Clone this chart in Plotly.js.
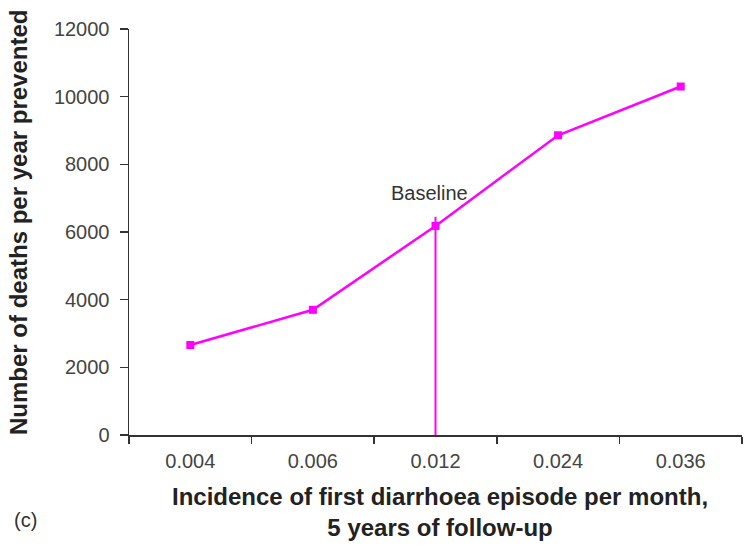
<!DOCTYPE html>
<html>
<head>
<meta charset="utf-8">
<script src="https://cdn.plot.ly/plotly-3.0.1.min.js"></script>
<style>html,body{margin:0;padding:0;background:#fff;}#chart{width:750px;height:548px;}</style>
</head>
<body>
<div id="chart"></div>
<script>
const categories = ['0.004', '0.006', '0.012', '0.024', '0.036'];
const deathsPrevented = [2660, 3700, 6180, 8860, 10300];
const yTicks = [0, 2000, 4000, 6000, 8000, 10000, 12000];
const baselineCategory = '0.012';
const baselineTop = 6450;
const baselineLabelY = 7150;

const magenta = '#ff00ff';
const fontFam = 'Liberation Sans, Arial, sans-serif';

const W = 750, H = 548;
const M = {l: 129, r: 8, t: 29, b: 113};
const px2paperX = (px) => (px - M.l) / (W - M.l - M.r);
const px2paperY = (py) => (H - M.b - py) / (H - M.t - M.b);
const baseIdx = categories.indexOf(baselineCategory);

const trace = {
  x: categories,
  y: deathsPrevented,
  type: 'scatter',
  mode: 'lines+markers',
  line: {color: magenta, width: 2.5},
  marker: {color: magenta, symbol: 'square', size: 8},
  hoverinfo: 'x+y'
};

const layout = {
  width: W, height: H,
  margin: M,
  paper_bgcolor: '#fff', plot_bgcolor: '#fff',
  showlegend: false,
  font: {family: fontFam, color: '#333', size: 20},
  xaxis: {
    type: 'category',
    range: [-0.5, 4.5],
    tickson: 'boundaries',
    ticks: 'outside', ticklen: 7, tickwidth: 1.5, tickcolor: '#333',
    showline: true, linecolor: '#333', linewidth: 1.5,
    showgrid: false, zeroline: false,
    tickfont: {family: fontFam, size: 20, color: '#444'},
    ticklabelstandoff: 7
  },
  yaxis: {
    range: [0, 12000],
    tickvals: yTicks,
    ticktext: yTicks.map(String),
    ticks: 'outside', ticklen: 8, tickwidth: 1.5, tickcolor: '#333',
    showline: true, linecolor: '#333', linewidth: 1.5,
    showgrid: false, zeroline: false,
    tickfont: {family: fontFam, size: 20, color: '#444'},
    ticklabelstandoff: 6
  },
  shapes: [{
    type: 'line', xref: 'x', yref: 'y',
    x0: baseIdx, x1: baseIdx, y0: 0, y1: baselineTop,
    line: {color: magenta, width: 2}
  }],
  annotations: [
    {x: baseIdx, y: baselineLabelY, xref: 'x', yref: 'y', text: 'Baseline',
     showarrow: false, xshift: -6, font: {family: fontFam, size: 20, color: '#333'}},
    {x: px2paperX(12), y: px2paperY(520), xref: 'paper', yref: 'paper', text: '(c)', showarrow: false,
     xanchor: 'left', yanchor: 'middle', font: {family: fontFam, size: 20, color: '#333'}},
    {x: px2paperX(18), y: px2paperY(223), xref: 'paper', yref: 'paper',
     text: '<b>Number of deaths per year prevented</b>', textangle: -90, showarrow: false,
     xanchor: 'center', yanchor: 'middle', font: {family: fontFam, size: 24, color: '#222'}},
    {x: px2paperX(440), y: px2paperY(512), xref: 'paper', yref: 'paper',
     text: '<b>Incidence of first diarrhoea episode per month,</b><br><b>5 years of follow-up</b>',
     showarrow: false, xanchor: 'center', yanchor: 'middle',
     font: {family: fontFam, size: 24, color: '#222'}}
  ]
};

Plotly.newPlot('chart', [trace], layout, {displayModeBar: false, staticPlot: true});
</script>
</body>
</html>
